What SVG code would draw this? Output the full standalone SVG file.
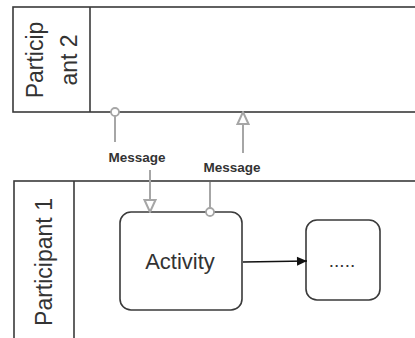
<svg xmlns="http://www.w3.org/2000/svg" width="415" height="338" viewBox="0 0 415 338">
<style>
.pool{fill:#fff;stroke:#3a3a3a;stroke-width:1.6}
.task{fill:#fff;stroke:#3a3a3a;stroke-width:1.6}
.lbl{font-family:"Liberation Sans",Arial,sans-serif;fill:#333}
.msg{fill:none;stroke:#a6a6a6;stroke-width:2}
.mlbl{font-family:"Liberation Sans",Arial,sans-serif;font-weight:bold;font-size:13.5px;fill:#333}
.seq{fill:none;stroke:#111;stroke-width:1.4}
</style>
<defs>
<marker id="msgEnd" viewBox="0 0 14 14" refX="13" refY="7" markerWidth="14" markerHeight="14" markerUnits="userSpaceOnUse" orient="auto">
<path d="M1,1.5 L13,7 L1,12.5 Z" fill="#fff" stroke="#a6a6a6" stroke-width="2"/>
</marker>
<marker id="msgStart" viewBox="0 0 10 10" refX="5" refY="5" markerWidth="10" markerHeight="10" markerUnits="userSpaceOnUse" orient="auto">
<circle cx="5" cy="5" r="4" fill="#fff" stroke="#a6a6a6" stroke-width="1.8"/>
</marker>
<marker id="seqEnd" viewBox="0 0 10 10" refX="10" refY="5" markerWidth="11" markerHeight="10" markerUnits="userSpaceOnUse" orient="auto">
<path d="M0,0.5 L10,5 L0,9.5 Z" fill="#111"/>
</marker>
</defs>
<rect width="415" height="338" fill="#fff"/>
<g id="participant2">
<rect class="pool" x="13" y="7" width="420" height="105"/>
<line x1="90" y1="7" x2="90" y2="112" stroke="#3a3a3a" stroke-width="1.6"/>
<text class="lbl" font-size="23" text-anchor="middle" transform="translate(43,60) rotate(-90)">Particip</text>
<text class="lbl" font-size="23" text-anchor="middle" transform="translate(77,60) rotate(-90)">ant 2</text>
</g>
<g id="participant1">
<rect class="pool" x="14" y="181" width="420" height="180"/>
<line x1="74" y1="181" x2="74" y2="345" stroke="#3a3a3a" stroke-width="1.6"/>
<text class="lbl" font-size="23" text-anchor="middle" transform="translate(52,262) rotate(-90)">Participant 1</text>
</g>
<g id="activity">
<rect class="task" x="120" y="212" width="122" height="98" rx="11"/>
<text class="lbl" font-size="22" text-anchor="middle" x="180" y="269">Activity</text>
</g>
<g id="more">
<rect class="task" x="306" y="220" width="74" height="80" rx="11"/>
<text class="lbl" font-size="19" text-anchor="middle" x="342" y="267">.....</text>
</g>
<g id="connectors">
<path class="msg" d="M115,112 V142" marker-start="url(#msgStart)"/>
<path class="msg" d="M150,170 V212" marker-end="url(#msgEnd)"/>
<text class="mlbl" text-anchor="middle" x="137" y="162">Message</text>
<path class="msg" d="M210,212 V182" marker-start="url(#msgStart)"/>
<path class="msg" d="M243,153 V112" marker-end="url(#msgEnd)"/>
<text class="mlbl" text-anchor="middle" x="232" y="172">Message</text>
<path class="seq" d="M243,262 L307,261" marker-end="url(#seqEnd)"/>
</g>
</svg>
